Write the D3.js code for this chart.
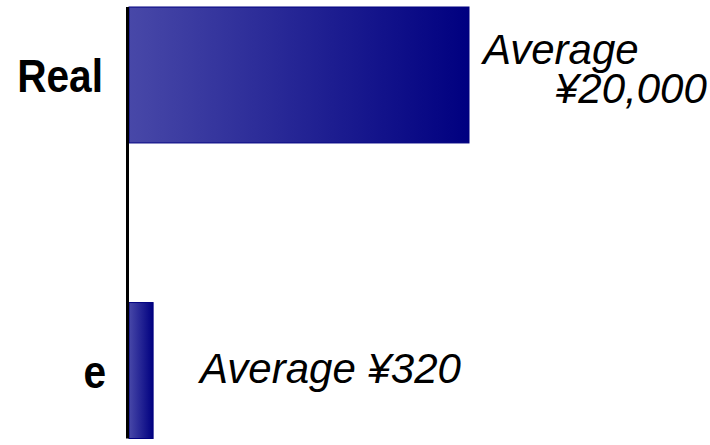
<!DOCTYPE html>
<html>
<head>
<meta charset="utf-8">
<script src="https://cdn.jsdelivr.net/npm/d3@7"></script>
<style>
  html, body { margin: 0; padding: 0; background: #fff; }
  svg { display: block; font-family: "Liberation Sans", Arial, sans-serif; }
</style>
</head>
<body>
<svg id="chart" width="710" height="445"></svg>
<script>
// Average spend per category (yen)
const categories = ["Real", "e"];
const values = [20000, 320];
const labelLines = [["Average", "¥20,000"], ["Average ¥320"]];

const svg = d3.select("#chart");
const x0 = 129;

// Compressed power scale so the small bar stays visible
const x = d3.scalePow().exponent(0.64).domain([0, 20000]).range([x0, 469]);
const y = d3.scaleBand().domain(categories).range([7, 438.5])
  .paddingInner(0.54).paddingOuter(0);

const defs = svg.append("defs");
const grad = defs.append("linearGradient").attr("id", "barGrad")
  .attr("x1", "0%").attr("x2", "100%").attr("y1", "0%").attr("y2", "0%");
grad.append("stop").attr("offset", "0%").attr("stop-color", "#4848a8");
grad.append("stop").attr("offset", "100%").attr("stop-color", "#000080");

// Bars
svg.selectAll("rect.bar").data(categories).join("rect")
  .attr("class", "bar")
  .attr("x", x0)
  .attr("y", d => y(d))
  .attr("width", (d, i) => x(values[i]) - x0)
  .attr("height", y.bandwidth())
  .attr("fill", "url(#barGrad)")
  .attr("stroke", "#000080")
  .attr("stroke-width", 1);

// Vertical axis line
svg.append("line")
  .attr("x1", 127.5).attr("x2", 127.5)
  .attr("y1", y.range()[0]).attr("y2", y.range()[1])
  .attr("stroke", "#000").attr("stroke-width", 3);

// Category labels (bold, slightly condensed)
svg.selectAll("text.cat").data(categories).join("text")
  .attr("class", "cat")
  .attr("transform", d => `translate(${d === "e" ? 106 : 103},${y(d) + y.bandwidth() / 2 + 17}) scale(0.865,1)`)
  .attr("text-anchor", "end")
  .attr("font-weight", "bold")
  .attr("font-size", 47)
  .attr("fill", "#000")
  .text(d => d);

// Value annotations
const realEnd = x(values[0]);
const realMid = y(categories[0]) + y.bandwidth() / 2;
svg.append("text")
  .attr("x", realEnd + 14).attr("y", realMid - 11)
  .attr("font-style", "italic").attr("font-size", 42)
  .text(labelLines[0][0]);
svg.append("text")
  .attr("x", realEnd + 86).attr("y", realMid + 28)
  .attr("font-style", "italic").attr("font-size", 42)
  .text(labelLines[0][1]);

const eEnd = x(values[1]);
const eMid = y(categories[1]) + y.bandwidth() / 2;
svg.append("text")
  .attr("x", eEnd + 47).attr("y", eMid + 12.5)
  .attr("font-style", "italic").attr("font-size", 42)
  .text(labelLines[1][0]);
</script>
</body>
</html>
